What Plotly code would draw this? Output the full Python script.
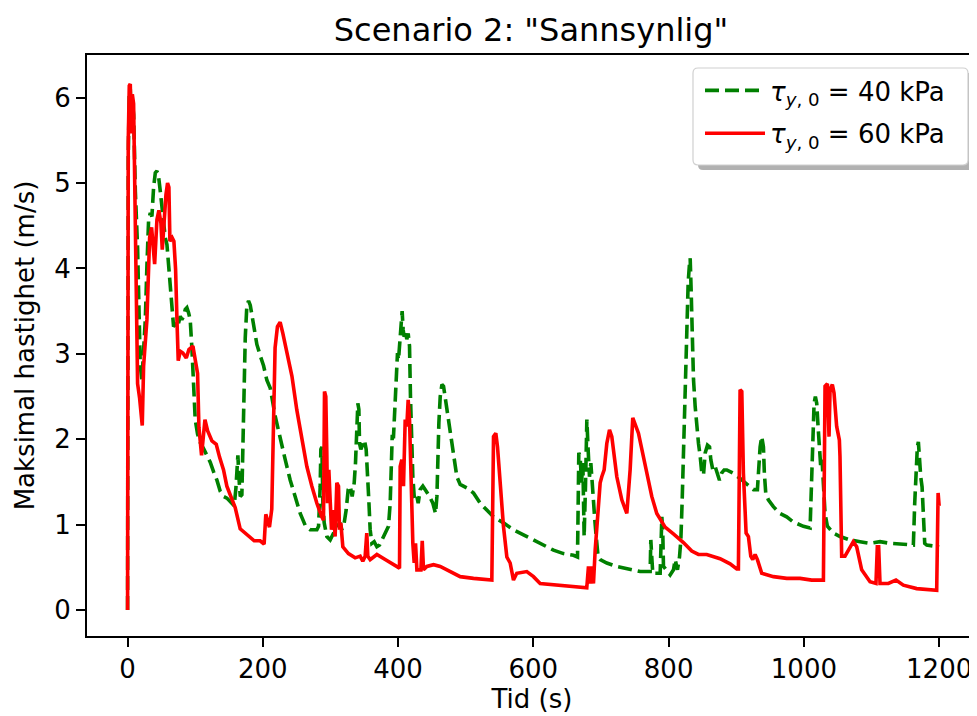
import plotly.graph_objects as go

# ---- data: tau_y,0 = 40 kPa (green, dashed) ----
t40 = [0, 1.0, 2.5, 4.0, 5.5, 7.0, 9.0, 11.5, 14.8, 18.8,
       21.2, 26.2, 28.6, 31.1, 33.6, 36.0, 38.5, 41.0, 43.4, 45.9,
       48.3, 50.8, 53.3, 55.7, 58.2, 60.6, 63.1, 65.6, 68.0, 70.5,
       73.0, 75.4, 77.9, 80.3, 82.8, 85.3, 87.7, 90.2, 92.6, 95.1,
       97.6, 100.0, 103.5, 107.4, 112.4, 117.3, 122.2, 127.1, 132.1, 137.0,
       141.9, 146.8, 151.8, 157.7, 160.2, 161.7, 163.1, 164.6, 166.6, 169.0,
       171.5, 174.0, 176.4, 178.9, 181.4, 186.3, 191.2, 196.1, 201.1, 206.0,
       210.9, 218.3, 225.7, 233.1, 240.5, 247.9, 255.3, 262.7, 270.0, 279.9,
       282.4, 284.8, 285.8, 287.3, 288.8, 290.7, 294.7, 299.6, 304.5, 309.4,
       314.4, 316.8, 320.3, 323.2, 326.2, 329.2, 332.1, 335.1, 337.0, 339.0,
       340.5, 342.0, 343.0, 344.9, 347.9, 350.3, 352.8, 354.8, 356.7, 358.7,
       361.2, 364.6, 368.6, 372.5, 376.4, 380.9, 385.8, 388.3, 389.8, 391.3,
       393.2, 395.2, 397.2, 399.1, 400.6, 402.1, 404.0, 406.0, 407.5, 409.0,
       410.9, 412.9, 414.9, 416.9, 418.3, 419.8, 421.8, 423.8, 425.8, 427.8,
       429.7, 432.7, 436.6, 441.6, 446.5, 451.4, 455.4, 457.4, 458.8, 460.3,
       462.3, 464.8, 467.2, 470.2, 473.2, 477.1, 481.9, 486.9, 491.8, 501.7,
       511.5, 521.4, 531.2, 541.1, 555.8, 570.6, 585.4, 600.2, 615.0, 629.8,
       644.5, 659.3, 665.3, 666.3, 667.2, 669.2, 671.2, 673.2, 675.1, 677.1,
       679.1, 681.0, 683.0, 685.0, 686.9, 688.9, 690.9, 692.9, 695.8, 698.8,
       708.6, 723.4, 743.1, 757.9, 772.7, 773.7, 775.1, 776.6, 787.5, 790.0,
       791.4, 792.4, 802.3, 807.2, 809.7, 813.1, 816.1, 818.1, 820.1, 822.0,
       824.5, 826.9, 828.9, 830.9, 831.9, 833.3, 834.8, 836.8, 839.3, 841.7,
       844.2, 846.7, 849.1, 851.6, 854.1, 857.5, 860.5, 862.4, 865.4, 868.8,
       872.2, 875.2, 878.1, 882.1, 886.0, 895.9, 905.7, 915.6, 925.4, 931.3,
       933.3, 935.3, 937.7, 940.2, 941.6, 943.6, 947.5, 954.9, 964.8, 974.6,
       984.5, 999.3, 1009.2, 1011.6, 1013.1, 1015.1, 1017.0, 1019.0, 1021.0, 1023.0,
       1024.9, 1026.9, 1028.9, 1031.3, 1034.8, 1038.7, 1043.6, 1053.5, 1068.3, 1083.1,
       1097.8, 1112.6, 1127.4, 1147.1, 1161.9, 1163.9, 1165.9, 1167.8, 1169.3, 1170.8,
       1172.8, 1174.8, 1176.7, 1178.7, 1181.7, 1191.5, 1200.0]
v40 = [0, 5.3, 6.05, 6.1, 5.7, 5.95, 5.8, 4.9, 4.24, 2.86,
       2.69, 3.40, 4.03, 4.57, 4.65, 4.61, 4.95, 5.12, 5.14, 5.07,
       4.91, 4.74, 4.49, 4.36, 4.28, 4.07, 3.82, 3.57, 3.32, 3.34,
       3.40, 3.36, 3.44, 3.40, 3.44, 3.52, 3.54, 3.48, 3.40, 3.07,
       2.56, 2.23, 2.06, 1.96, 1.89, 1.81, 1.73, 1.62, 1.52, 1.39,
       1.33, 1.31, 1.27, 1.22, 1.43, 1.73, 1.81, 1.56, 1.33, 1.35,
       2.35, 3.19, 3.57, 3.62, 3.57, 3.32, 3.11, 2.98, 2.86, 2.69,
       2.60, 2.27, 1.99, 1.76, 1.52, 1.33, 1.13, 0.99, 0.94, 0.94,
       0.98, 1.45, 1.88, 1.91, 1.25, 1.02, 0.86, 0.82, 0.90, 0.98,
       1.02, 0.94, 1.02, 1.17, 1.41, 1.45, 1.33, 1.49, 1.72, 2.11,
       2.42, 2.35, 1.95, 1.88, 1.95, 1.99, 1.88, 1.64, 1.29, 0.94,
       0.78, 0.80, 0.74, 0.76, 0.82, 0.90, 0.98, 1.25, 1.84, 2.03,
       2.03, 2.31, 2.74, 3.01, 2.93, 3.13, 3.40, 3.50, 3.28, 3.20,
       3.26, 3.17, 3.24, 3.09, 2.50, 1.95, 1.56, 1.33, 1.29, 1.33,
       1.25, 1.41, 1.45, 1.39, 1.33, 1.25, 1.13, 1.33, 1.80, 2.19,
       2.50, 2.64, 2.62, 2.46, 2.31, 2.15, 1.88, 1.56, 1.47, 1.43,
       1.37, 1.25, 1.17, 1.09, 1.02, 0.94, 0.88, 0.82, 0.76, 0.70,
       0.66, 0.64, 0.62, 1.25, 1.84, 1.80, 1.49, 1.72, 0.86, 1.45,
       2.23, 1.88, 1.56, 1.72, 1.45, 1.33, 1.05, 0.86, 0.62, 0.59,
       0.55, 0.51, 0.47, 0.45, 0.45, 0.82, 0.62, 0.43, 0.43, 1.09,
       0.90, 0.51, 0.41, 0.47, 0.59, 0.47, 0.62, 0.82, 1.29, 1.80,
       2.58, 3.36, 3.83, 4.06, 4.12, 3.75, 3.16, 2.70, 2.38, 2.15,
       1.95, 1.80, 1.60, 1.58, 1.84, 1.93, 1.91, 1.76, 1.64, 1.68,
       1.60, 1.52, 1.60, 1.64, 1.64, 1.60, 1.54, 1.48, 1.41, 1.41,
       1.68, 1.91, 2.03, 1.91, 1.60, 1.37, 1.29, 1.21, 1.13, 1.09,
       1.03, 0.98, 0.96, 1.56, 2.15, 2.42, 2.50, 2.42, 2.15, 1.84,
       1.68, 1.76, 1.44, 1.13, 0.98, 0.94, 0.90, 0.86, 0.82, 0.80,
       0.78, 0.80, 0.78, 0.77, 0.76, 1.25, 1.76, 1.91, 1.97, 1.76,
       1.56, 1.44, 1.17, 0.78, 0.76, 0.75, 0.74]

# ---- data: tau_y,0 = 60 kPa (red, solid) ----
t60 = [0, 1.0, 2.5, 4.0, 5.5, 7.0, 8.9, 11.4, 12.9, 14.8,
       17.8, 21.7, 23.7, 28.6, 32.6, 35.5, 40.0, 43.4, 46.3, 49.3,
       51.3, 54.2, 56.7, 59.1, 61.1, 62.6, 66.0, 68.5, 71.0, 73.0,
       74.9, 77.9, 81.8, 86.8, 90.7, 96.6, 103.5, 105.5, 109.4, 114.4,
       118.3, 124.7, 131.1, 136.0, 141.9, 146.8, 152.7, 159.1, 166.5, 176.3,
       187.2, 196.0, 201.9, 204.4, 206.8, 209.8, 213.2, 215.7, 218.1, 221.6,
       225.6, 229.6, 235.6, 243.0, 250.3, 257.7, 265.1, 272.5, 279.9, 287.2,
       289.7, 291.2, 293.1, 294.6, 295.6, 297.6, 299.5, 301.5, 304.5, 306.9,
       309.4, 311.9, 313.3, 315.3, 318.3, 326.6, 336.5, 343.9, 347.8, 351.3,
       353.7, 355.2, 358.7, 368.6, 380.9, 393.2, 402.1, 403.1, 405.5, 408.0,
       410.5, 412.9, 414.9, 416.9, 418.9, 421.8, 423.8, 425.8, 427.8, 430.7,
       433.7, 435.7, 437.6, 442.6, 452.4, 462.3, 477.1, 491.8, 511.5, 538.6,
       541.1, 544.5, 547.0, 550.9, 555.8, 560.8, 565.7, 570.6, 575.5, 590.3,
       600.2, 610.0, 624.8, 649.5, 679.0, 681.5, 684.0, 686.4, 688.9, 691.4,
       693.8, 696.3, 698.8, 701.2, 704.7, 708.6, 712.6, 716.0, 723.4, 730.8,
       738.2, 743.1, 747.0, 755.4, 765.2, 775.1, 782.5, 794.8, 807.1, 821.9,
       834.2, 844.1, 856.4, 876.1, 890.9, 900.8, 903.2, 905.7, 908.2, 910.6,
       914.6, 918.0, 921.5, 924.4, 927.9, 931.3, 937.7, 955.0, 974.7, 994.4,
       1011.6, 1028.9, 1031.3, 1034.8, 1037.2, 1038.7, 1042.1, 1044.6, 1048.5, 1052.5,
       1053.4, 1055.9, 1060.8, 1065.7, 1073.1, 1078.1, 1085.5, 1097.8, 1106.6, 1108.6,
       1110.6, 1112.6, 1115.0, 1124.9, 1136.2, 1147.1, 1166.8, 1196.4, 1198.5, 1199.3,
       1200.0]
v60 = [0, 5.49, 6.14, 6.16, 5.58, 6.04, 5.93, 4.45, 3.40, 2.65,
       2.48, 2.16, 2.86, 3.40, 4.36, 4.48, 4.05, 4.57, 4.68, 4.53,
       4.22, 4.57, 4.86, 5.00, 4.95, 4.32, 4.36, 4.32, 3.99, 3.40,
       2.92, 3.03, 3.01, 2.95, 3.05, 3.09, 2.77, 2.14, 1.81, 2.23,
       2.10, 1.98, 1.94, 1.79, 1.64, 1.45, 1.33, 1.20, 0.95, 0.88,
       0.81, 0.81, 0.77, 1.12, 1.05, 0.97, 1.18, 2.14, 3.07, 3.32,
       3.37, 3.24, 3.01, 2.74, 2.34, 1.99, 1.68, 1.45, 1.25, 1.09,
       1.05, 2.56, 2.50, 1.84, 1.25, 1.64, 1.25, 0.94, 1.17, 0.86,
       1.49, 1.45, 0.94, 1.02, 0.74, 0.66, 0.61, 0.63, 0.57, 0.63,
       0.90, 0.63, 0.59, 0.65, 0.59, 0.53, 0.49, 1.68, 1.76, 1.45,
       2.23, 2.15, 2.46, 2.23, 1.56, 0.78, 0.55, 0.78, 0.47, 0.47,
       0.47, 0.81, 0.47, 0.51, 0.53, 0.51, 0.45, 0.39, 0.37, 0.35,
       2.03, 2.07, 1.91, 1.45, 0.98, 0.62, 0.55, 0.35, 0.43, 0.45,
       0.39, 0.31, 0.30, 0.28, 0.26, 0.51, 0.31, 0.51, 0.31, 0.70,
       0.94, 1.25, 1.49, 1.56, 1.64, 1.95, 2.11, 2.03, 1.56, 1.29,
       1.13, 1.64, 2.25, 2.07, 1.68, 1.33, 1.13, 0.97, 0.89, 0.79,
       0.69, 0.65, 0.65, 0.60, 0.54, 0.48, 0.48, 2.58, 2.56, 1.60,
       0.90, 0.86, 0.63, 0.59, 0.65, 0.59, 0.43, 0.39, 0.37, 0.37,
       0.35, 0.35, 2.62, 2.65, 2.03, 2.58, 2.64, 2.54, 2.15, 1.99,
       1.80, 0.63, 0.63, 0.70, 0.80, 0.74, 0.47, 0.33, 0.31, 0.74,
       0.74, 0.31, 0.31, 0.31, 0.35, 0.29, 0.25, 0.23, 1.37, 1.30,
       1.22]

x_ticks = [0, 200, 400, 600, 800, 1000, 1200]
y_ticks = [0, 1, 2, 3, 4, 5, 6]
label40 = "<i>τ</i><sub><i>y</i>, 0</sub> = 40 kPa"
label60 = "<i>τ</i><sub><i>y</i>, 0</sub> = 60 kPa"

FONT = "DejaVu Sans"
OFF = 8                      # page body margin in the browser
W, H = 977 - OFF, 716 - OFF
ML, MR, MT, MB = 87 - OFF, 0, 55 - OFF, H - (636 - OFF)
FS = 26

fig = go.Figure()
fig.add_trace(go.Scatter(x=t40, y=v40, mode="lines", name=label40,
                         legendgroup="a",
                         line=dict(color="#008000", width=3.6, dash="14px,6px")))
fig.add_trace(go.Scatter(x=t60, y=v60, mode="lines", name=label60,
                         legendgroup="b",
                         line=dict(color="#ff0000", width=3.6)))

pw = W - ML - MR
ph = H - MT - MB


def px2paper(x, y):
    # x, y: pixel positions in the reference screenshot
    return (x - OFF - ML) / pw, (H - MB - (y - OFF)) / ph


def rounded_box(x0, y0, x1, y1, r=5):
    # x0,y0 top-left; x1,y1 bottom-right in reference pixels -> SVG path in paper coords
    rx, ry = r / pw, r / ph
    a, t = px2paper(x0, y0)
    b, u = px2paper(x1, y1)
    return (f"M{a + rx},{t} L{b - rx},{t} Q{b},{t} {b},{t - ry} "
            f"L{b},{u + ry} Q{b},{u} {b - rx},{u} L{a + rx},{u} Q{a},{u} {a},{u + ry} "
            f"L{a},{t - ry} Q{a},{t} {a + rx},{t} Z")


# legend frame + shadow (decorative)
fig.add_shape(type="path", xref="paper", yref="paper", path=rounded_box(698, 73, 974, 170),
              fillcolor="rgba(100,100,100,0.5)", line=dict(width=0), layer="above")
fig.add_shape(type="path", xref="paper", yref="paper", path=rounded_box(693, 68, 968, 165),
              fillcolor="white", line=dict(color="#d0d0d0", width=1.2), layer="above")

lx, ly = px2paper(700, 67)
tx, _ = px2paper(531, 0)
fig.update_layout(
    width=W, height=H,
    margin=dict(l=ML, r=MR, t=MT, b=MB, pad=0),
    paper_bgcolor="white", plot_bgcolor="white",
    font=dict(family=FONT, size=FS, color="black"),
    title=dict(text='Scenario 2: "Sannsynlig"', x=tx, xref="paper",
               xanchor="center", y=1 - (30 - OFF) / H, yref="container", yanchor="middle",
               automargin=False,
               font=dict(size=32, family=FONT, color="black")),
    showlegend=True,
    legend=dict(x=lx, y=ly, xanchor="left", yanchor="top",
                bgcolor="rgba(0,0,0,0)", borderwidth=0,
                font=dict(size=FS, family=FONT, color="black"),
                traceorder="grouped", tracegroupgap=6, itemwidth=60),
    xaxis=dict(range=[-60, 1256], tickvals=x_ticks, ticktext=[str(v) for v in x_ticks],
               automargin=False,
               showgrid=False, zeroline=False, showline=True, linecolor="black",
               linewidth=1.8, mirror=True, ticks="outside", ticklen=9, tickwidth=1.8,
               tickcolor="black", tickfont=dict(size=FS, family=FONT),
               title=dict(text="Tid (s)", standoff=6,
                          font=dict(size=FS, family=FONT))),
    yaxis=dict(range=[-0.305, 6.5], tickvals=y_ticks, ticktext=[str(v) for v in y_ticks],
               automargin=False,
               showgrid=False, zeroline=False, showline=True, linecolor="black",
               linewidth=1.8, mirror=False, ticks="outside", ticklen=9, tickwidth=1.8,
               tickcolor="black", tickfont=dict(size=FS, family=FONT),
               title=dict(text="Maksimal hastighet (m/s)", standoff=12,
                          font=dict(size=FS, family=FONT))),
)

fig.write_html("out.html")
